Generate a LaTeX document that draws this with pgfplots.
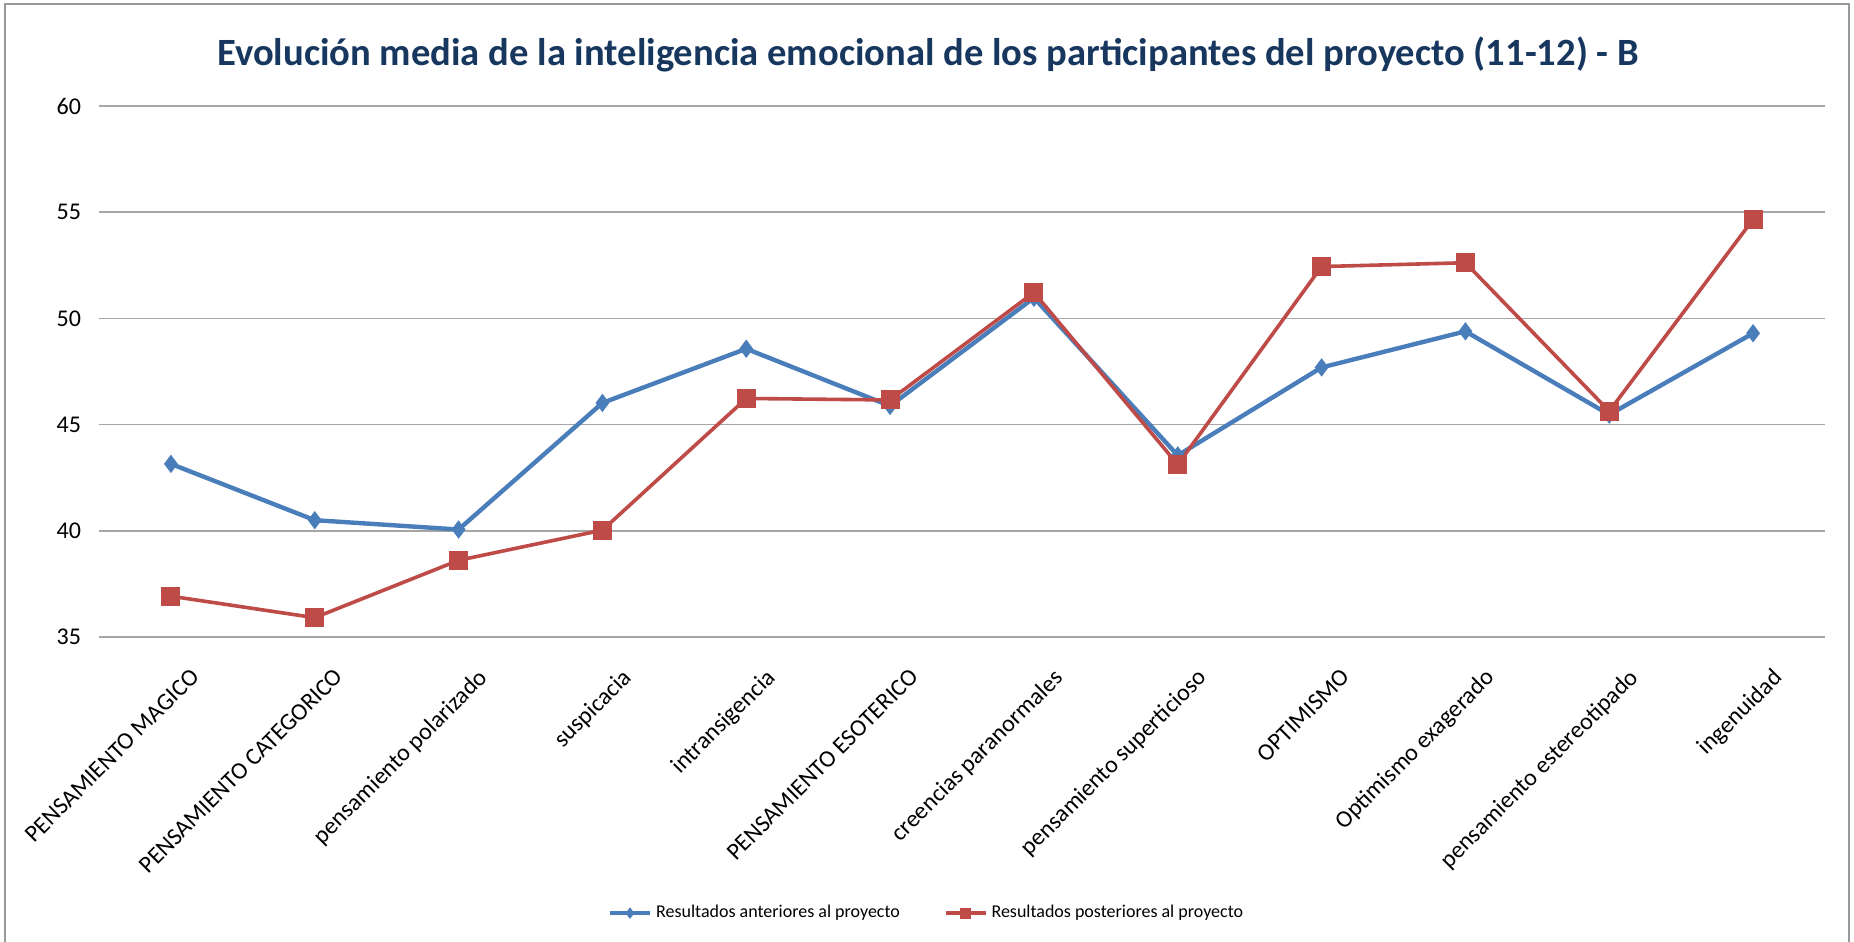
\documentclass[border=0pt]{standalone}
\usepackage{fontspec}
\setmainfont{Carlito}
\usepackage{pgfplots}
\pgfplotsset{compat=1.18}
\definecolor{serA}{RGB}{74,126,187}
\definecolor{serB}{RGB}{190,75,72}
\definecolor{ttl}{RGB}{23,55,94}
\definecolor{grd}{RGB}{166,166,166}
\begin{document}
\begin{tikzpicture}
\useasboundingbox (0,0) rectangle (927pt,471pt);
\draw[gray!80, line width=1.2pt] (2.5pt,0) -- (2.5pt,469pt) -- (924.5pt,469pt) -- (924.5pt,0);
\begin{axis}[
  at={(49.5pt,152.5pt)}, anchor=south west,
  scale only axis, width=863pt, height=265.5pt,
  xmin=-0.5, xmax=11.5, ymin=35, ymax=60,
  ytick={35,40,45,50,55,60},
  xtick={0,...,11},
  xticklabels={PENSAMIENTO MAGICO, PENSAMIENTO CATEGORICO, pensamiento polarizado, suspicacia, intransigencia, PENSAMIENTO ESOTERICO, creencias paranormales, pensamiento superticioso, OPTIMISMO, Optimismo exagerado, pensamiento estereotipado, ingenuidad},
  xticklabel style={rotate=45, anchor=north east, font=\fontsize{12}{14}\selectfont, inner sep=0pt, yshift=-17pt, xshift=-4pt},
  yticklabel style={font=\fontsize{12}{14}\selectfont, xshift=-5.5pt},
  /pgf/number format/assume math mode=true,
  major tick length=0pt,
  axis line style={draw=none},
  ymajorgrids, grid style={grd, line width=0.8pt},
  title={Evolución media de la inteligencia emocional de los participantes del proyecto (11-12) - B},
  title style={at={(axis description cs:0.5,1)}, anchor=center, yshift=20pt, xshift=-17pt, font=\fontsize{19.3}{22}\selectfont\bfseries, text=ttl},
  legend columns=2,
  legend style={at={(axis description cs:0.48,-0.52)}, anchor=center, draw=none, font=\fontsize{9}{11}\selectfont, /tikz/every even column/.append style={column sep=20pt}},
  legend image code/.code={\draw[mark repeat=2,mark phase=2,mark size=2.5pt] plot coordinates {(0pt,0pt) (10pt,0pt) (20pt,0pt)};},
]
\addplot[serA, line width=2.2pt, mark=diamond*, mark size=4.2pt, mark options={line width=0.5pt}] coordinates {
(0,43.15) (1,40.5) (2,40.06) (3,46.02) (4,48.57) (5,45.88) (6,50.97) (7,43.55) (8,47.69) (9,49.39) (10,45.47) (11,49.3)};
\addlegendentry{Resultados anteriores al proyecto}
\addplot[serB, line width=1.8pt, mark=square*, mark size=4.5pt, mark options={line width=0.5pt}] coordinates {
(0,36.92) (1,35.91) (2,38.61) (3,40.03) (4,46.23) (5,46.16) (6,51.22) (7,43.12) (8,52.44) (9,52.62) (10,45.63) (11,54.66)};
\addlegendentry{Resultados posteriores al proyecto}
\end{axis}
\end{tikzpicture}
\end{document}
